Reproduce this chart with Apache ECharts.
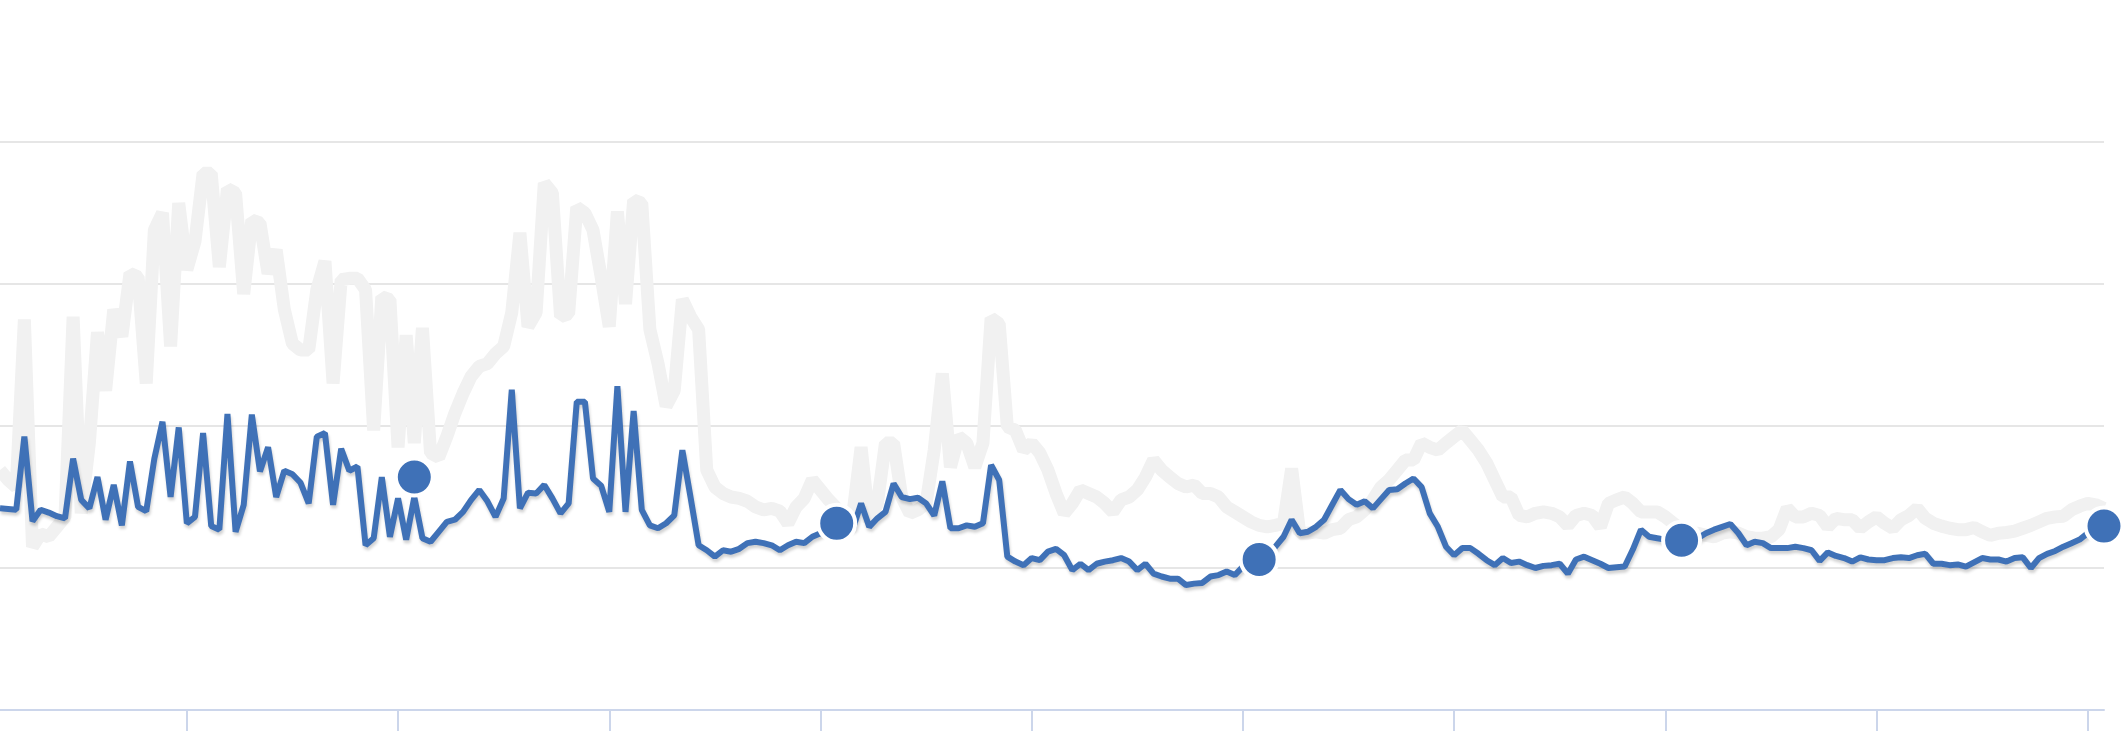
<!DOCTYPE html>
<html>
<head>
<meta charset="utf-8">
<script src="https://cdn.jsdelivr.net/npm/echarts@6/dist/echarts.min.js"></script>
<style>
  html, body { margin: 0; padding: 0; background: #fff; }
  #chart { width: 2126px; height: 731px; }
</style>
</head>
<body>
<div id="chart"></div>
<script>
// weekly values (one gridline = 10 units)
const blueValues = [
  14.2, 14.15, 14.1, 19.25, 13.3, 14.1, 13.9, 13.65, 13.5, 17.7,
  14.8, 14.2, 16.4, 13.4, 15.85, 13.0, 17.5, 14.3, 14.0, 17.7,
  20.3, 15.0, 19.9, 13.15, 13.6, 19.5, 12.95, 12.7, 20.85, 12.55,
  14.45, 20.8, 16.8, 18.5, 15.0, 16.85, 16.6, 16.0, 14.55, 19.25,
  19.5, 14.45, 18.4, 16.85, 17.15, 11.6, 12.1, 16.4, 12.2, 14.9,
  12.0, 15.0, 12.1, 11.85, 12.55, 13.25, 13.4, 13.95, 14.8, 15.5,
  14.7, 13.6, 14.9, 22.55, 14.2, 15.3, 15.25, 15.85, 14.9, 13.85,
  14.55, 21.7, 21.7, 16.3, 15.8, 13.95, 22.8, 13.95, 21.05, 14.1,
  13.0, 12.8, 13.15, 13.7, 18.3, 15.0, 11.6, 11.25, 10.8, 11.25,
  11.15, 11.35, 11.75, 11.85, 11.75, 11.6, 11.25, 11.6, 11.85, 11.75,
  12.2, 12.45, 12.9, 13.15, 13.0, 12.8, 14.55, 12.9, 13.5, 13.95,
  15.95, 15.0, 14.85, 14.95, 14.55, 13.7, 16.1, 12.8, 12.8, 13.0,
  12.9, 13.15, 17.25, 16.2, 10.8, 10.45, 10.2, 10.7, 10.55, 11.15,
  11.35, 10.9, 9.85, 10.3, 9.85, 10.3, 10.45, 10.55, 10.7, 10.45,
  9.85, 10.3, 9.6, 9.4, 9.25, 9.25, 8.8, 8.9, 8.95, 9.4,
  9.5, 9.75, 9.5, 10.1, 10.3, 10.6, 11.0, 11.5, 12.2, 13.4,
  12.45, 12.55, 12.9, 13.4, 14.45, 15.5, 14.85, 14.45, 14.7, 14.2,
  14.85, 15.5, 15.55, 15.95, 16.3, 15.7, 13.85, 12.9, 11.5, 10.9,
  11.4, 11.4, 11.0, 10.55, 10.2, 10.7, 10.35, 10.45, 10.2, 10.0,
  10.15, 10.2, 10.3, 9.6, 10.6, 10.8, 10.55, 10.3, 10.0, 10.05,
  10.1, 11.3, 12.7, 12.2, 12.1, 12.0, 12.0, 11.95, 11.95, 12.1,
  12.45, 12.7, 12.9, 13.1, 12.45, 11.6, 11.85, 11.75, 11.4, 11.4,
  11.4, 11.5, 11.4, 11.25, 10.5, 11.1, 10.85, 10.7, 10.45, 10.75,
  10.6, 10.55, 10.55, 10.7, 10.75, 10.7, 10.9, 11.0, 10.3, 10.3,
  10.2, 10.25, 10.1, 10.4, 10.7, 10.6, 10.6, 10.45, 10.7, 10.75,
  10.0, 10.7, 11.0, 11.2, 11.5, 11.75, 12.0, 12.45, 12.7, 12.95
];

const greyValues = [
  16.9, 16.2, 15.7, 27.5, 11.5, 12.4, 12.2, 12.9, 13.6, 27.7,
  13.85, 18.8, 26.6, 22.5, 28.2, 26.3, 30.75, 30.5, 23.0, 33.8,
  35.0, 25.6, 35.7, 31.0, 33.0, 37.8, 37.8, 31.2, 36.7, 36.4,
  29.3, 34.5, 34.3, 30.75, 32.4, 28.2, 25.8, 25.35, 25.35, 29.6,
  31.6, 23.0, 30.3, 30.4, 30.4, 29.6, 19.7, 29.1, 28.9, 18.5,
  26.4, 18.8, 26.9, 18.1, 17.8, 19.25, 20.9, 22.3, 23.5, 24.2,
  24.4, 25.1, 25.6, 28.0, 33.6, 27.0, 28.0, 37.1, 36.4, 27.7,
  27.9, 35.4, 35.0, 33.8, 30.5, 27.0, 35.1, 28.6, 35.9, 35.7,
  26.8, 24.4, 21.4, 22.5, 28.9, 27.7, 26.8, 16.9, 15.7, 15.25,
  15.0, 14.9, 14.7, 14.3, 14.1, 14.2, 14.0, 13.15, 14.3, 14.9,
  16.2, 15.5, 14.8, 14.2, 13.25, 13.85, 18.5, 13.25, 14.55, 18.8,
  18.8, 15.0, 13.85, 14.1, 14.55, 18.3, 23.7, 17.1, 19.25, 18.8,
  17.1, 18.8, 27.6, 27.2, 19.95, 19.7, 18.3, 18.8, 18.1, 16.9,
  15.25, 13.85, 14.55, 15.5, 15.25, 15.0, 14.55, 13.95, 14.8, 15.0,
  15.5, 16.4, 17.6, 16.9, 16.4, 15.95, 15.7, 15.85, 15.25, 15.25,
  15.0, 14.3, 13.95, 13.6, 13.25, 13.0, 12.9, 13.0, 13.15, 17.0,
  12.45, 12.45, 12.55, 12.45, 12.7, 12.8, 13.4, 13.6, 14.1, 14.8,
  15.7, 16.2, 16.9, 17.6, 17.6, 18.8, 18.5, 18.3, 18.8, 19.25,
  19.7, 19.0, 18.3, 17.4, 16.2, 15.0, 15.0, 13.7, 13.6, 13.85,
  13.95, 13.85, 13.6, 13.0, 13.7, 13.85, 13.7, 12.9, 14.55, 14.8,
  15.0, 14.55, 13.95, 13.95, 13.95, 13.6, 13.15, 12.7, 12.45, 12.45,
  12.3, 12.2, 12.45, 12.55, 12.45, 12.2, 12.1, 12.1, 12.2, 12.7,
  14.2, 13.6, 13.6, 13.85, 13.7, 12.9, 13.5, 13.4, 13.4, 12.8,
  13.25, 13.6, 13.15, 12.8, 13.4, 13.7, 14.2, 13.5, 13.15, 12.95,
  12.8, 12.7, 12.7, 12.85, 12.55, 12.3, 12.45, 12.5, 12.6, 12.8,
  13.0, 13.25, 13.5, 13.6, 13.65, 14.1, 14.35, 14.55, 14.45, 14.2
];

// yearly markers (week index, value)
const yearWeeks = [51, 103, 155, 207, 259];
const yearValues = [16.4, 13.15, 10.6, 11.95, 12.95];

const weeks = blueValues.map((_, i) => 'W' + (i + 1));

const chart = echarts.init(document.getElementById('chart'));

const option = {
  backgroundColor: '#fff',
  animation: false,
  grid: { left: 0, right: 22, top: 142, bottom: 21 },
  xAxis: {
    type: 'category',
    data: weeks,
    boundaryGap: false,
    axisLine: { lineStyle: { color: '#ccd6eb', width: 2 } },
    axisTick: {
      interval: (i) => i >= 23 && (i - 23) % 26 === 0,
      length: 22,
      lineStyle: { color: '#ccd6eb', width: 2 }
    },
    axisLabel: { show: false },
    splitLine: { show: false }
  },
  yAxis: {
    type: 'value',
    min: 0,
    max: 40,
    interval: 10,
    axisLine: { show: false },
    axisTick: { show: false },
    axisLabel: { show: false },
    splitLine: { lineStyle: { color: '#e6e6e6', width: 2 } }
  },
  series: [
    {
      name: 'previous',
      type: 'line',
      data: greyValues,
      showSymbol: false,
      lineStyle: { color: '#f1f1f1', width: 13 },
      z: 1
    },
    {
      name: 'weekly',
      type: 'line',
      data: blueValues,
      showSymbol: false,
      lineStyle: {
        color: '#3f71b7',
        width: 6,
        shadowColor: 'rgba(0, 0, 0, 0.18)',
        shadowBlur: 3,
        shadowOffsetX: 1,
        shadowOffsetY: 3
      },
      z: 2
    },
    {
      name: 'yearly',
      type: 'scatter',
      data: yearWeeks.map((w, k) => [w, yearValues[k]]),
      symbolSize: 37,
      itemStyle: { color: '#3f71b7', opacity: 1, borderColor: '#fff', borderWidth: 4 },
      z: 3
    }
  ]
};

chart.setOption(option);
</script>
</body>
</html>
